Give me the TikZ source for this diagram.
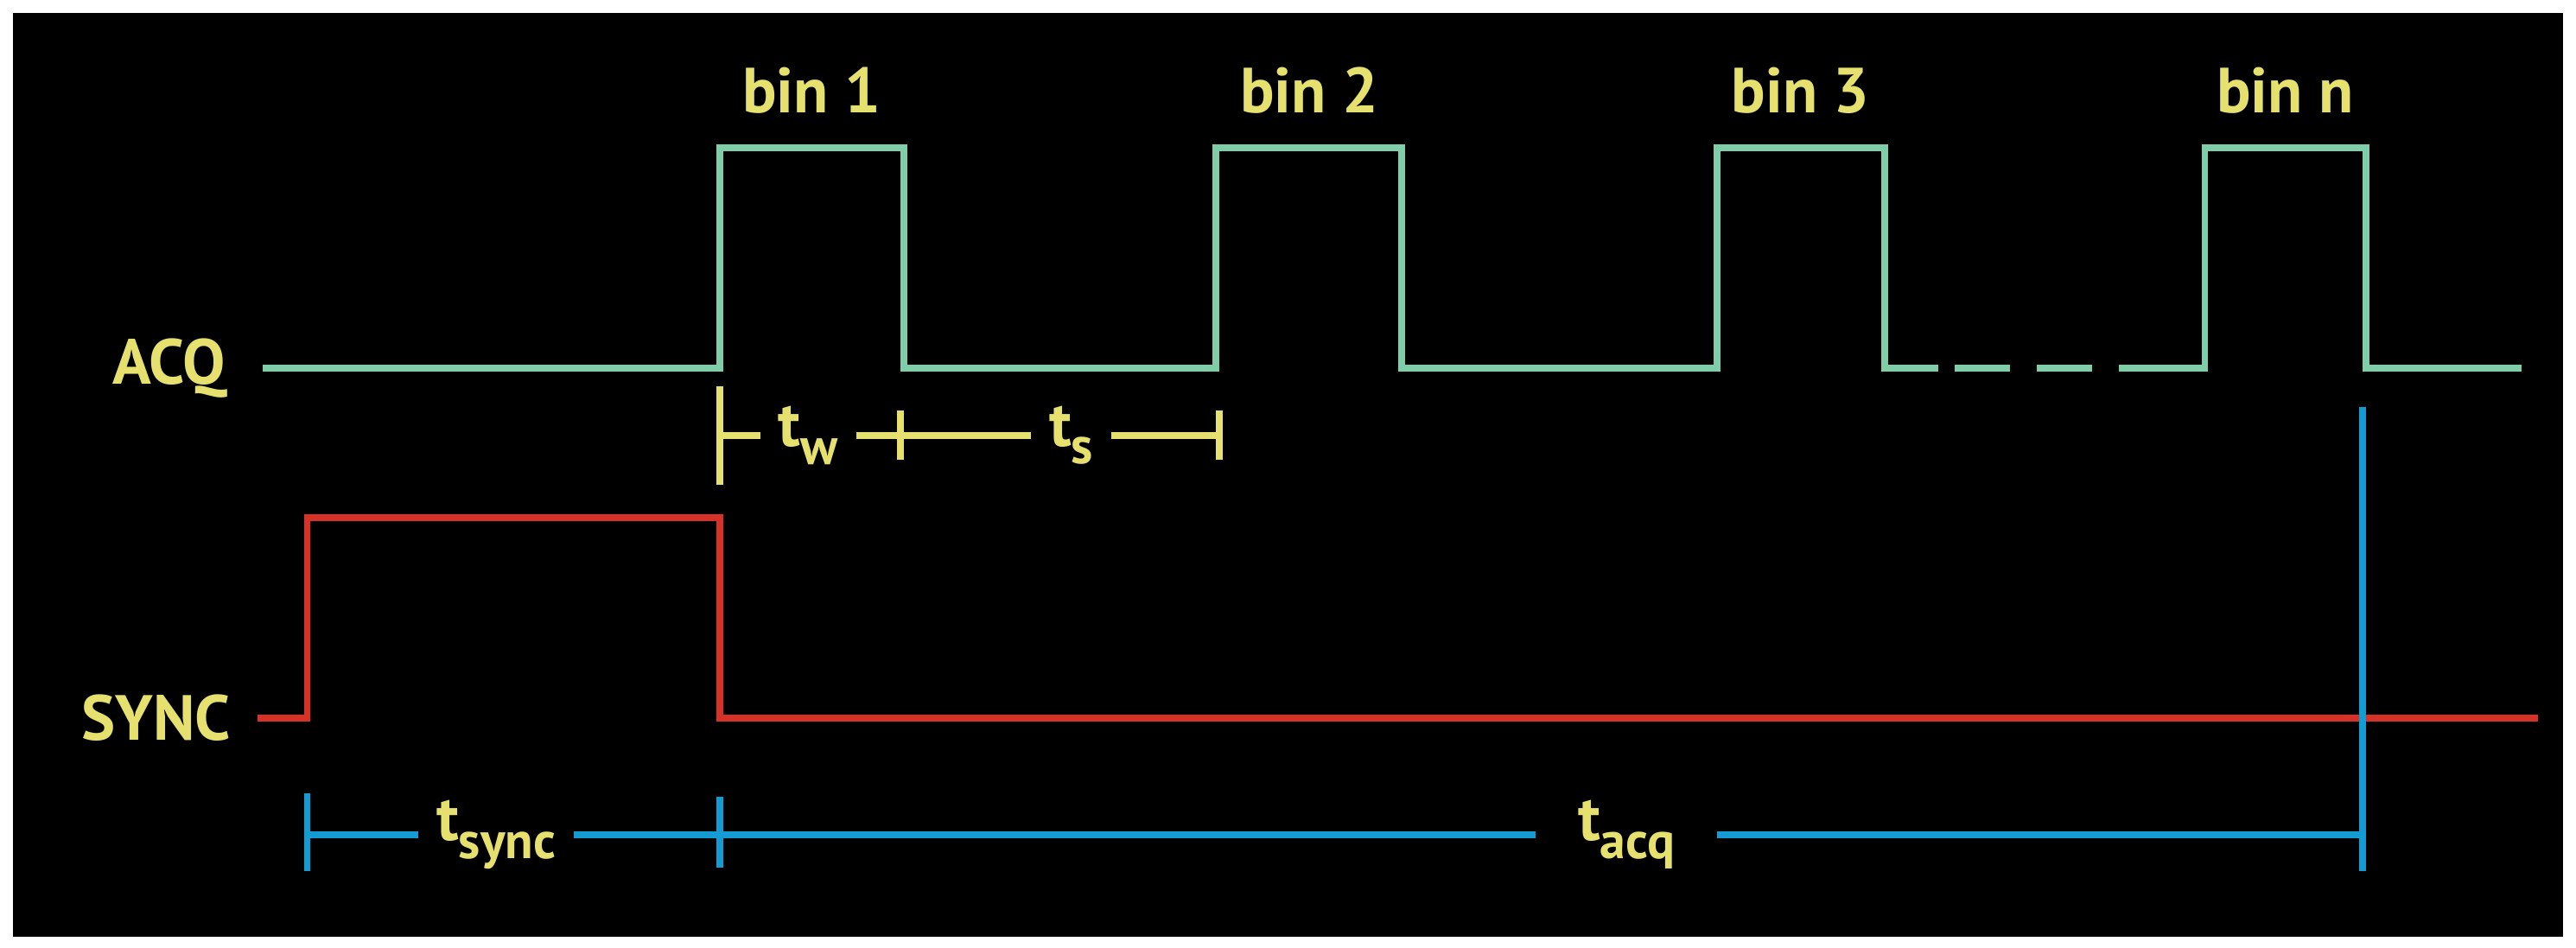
\documentclass[tikz,border=0pt]{standalone}
\usepackage{fontspec}
\setmainfont{PT Sans}
\newcommand{\mysub}[1]{\raisebox{-0.28em}{\fontsize{17}{20}\selectfont #1}}
\begin{document}
\begin{tikzpicture}[x=0.01901cm,y=-0.01901cm,
  sig/.style={line width=2.2pt},
  acq/.style={sig,draw={rgb,255:red,128;green,205;blue,170}},
  syn/.style={sig,draw={rgb,255:red,215;green,50;blue,40}},
  yel/.style={sig,draw={rgb,255:red,230;green,225;blue,110}},
  blu/.style={sig,draw={rgb,255:red,20;green,155;blue,210}},
  lab/.style={text={rgb,255:red,230;green,225;blue,110},font=\fontsize{21}{24}\selectfont\bfseries,inner sep=2pt},
  gap/.style={lab,fill=black,inner xsep=6pt}]
\useasboundingbox (0,0) rectangle (1568,577);
\fill[white] (0,0) rectangle (1568,577);
\fill[black] (8,8) rectangle (1560,570);
% ACQ
\draw[acq,line join=miter] (160,224) -- (438,224) -- (438,90) -- (550,90) -- (550,224) -- (740,224) -- (740,90) -- (853,90) -- (853,224) -- (1045,224) -- (1045,90) -- (1147,90) -- (1147,224) -- (1180,224);
\draw[acq,dash pattern=on 18pt off 9pt] (1190,224) -- (1320,224);
\draw[acq,line join=miter] (1320,224) -- (1342,224) -- (1342,90) -- (1440,90) -- (1440,224) -- (1535,224);
\node[lab] (acq) at (103,224) {ACQ};
\node[lab] (b1) at (494,55) {bin 1};
\node[lab] (b2) at (797,55) {bin 2};
\node[lab] (b3) at (1096,55) {bin 3};
\node[lab] (bn) at (1391,55) {bin n};
% SYNC
\draw[syn,line join=miter] (157,437) -- (187,437) -- (187,315) -- (438,315) -- (438,437) -- (1545,437);
\node[lab] (sync) at (95,437) {SYNC};
% tw ts
\coordinate (y0) at (438,265); \coordinate (y1) at (548,265); \coordinate (y2) at (742,265);
\draw[yel] (438,235) -- (438,295);
\draw[yel] (548,250) -- (548,280);
\draw[yel] (742,250) -- (742,280);
\draw[yel] (y0) -- (y1) -- (y2);
\node[gap] (tw) at (492,265) {t\mysub{w}};
\node[gap] (ts) at (652,265) {t\mysub{s}};
% blue
\draw[blu] (1438,248) -- (1438,530);
\draw[blu] (187,483) -- (187,530);
\draw[blu] (438,485) -- (438,528);
\coordinate (z0) at (187,508); \coordinate (z1) at (1438,508);
\draw[blu] (z0) -- (z1);
\node[gap] (tsy) at (302,508) {t\mysub{sync}};
\node[gap,inner xsep=14pt] (tac) at (990,508) {t\mysub{acq}};
\end{tikzpicture}
\end{document}
